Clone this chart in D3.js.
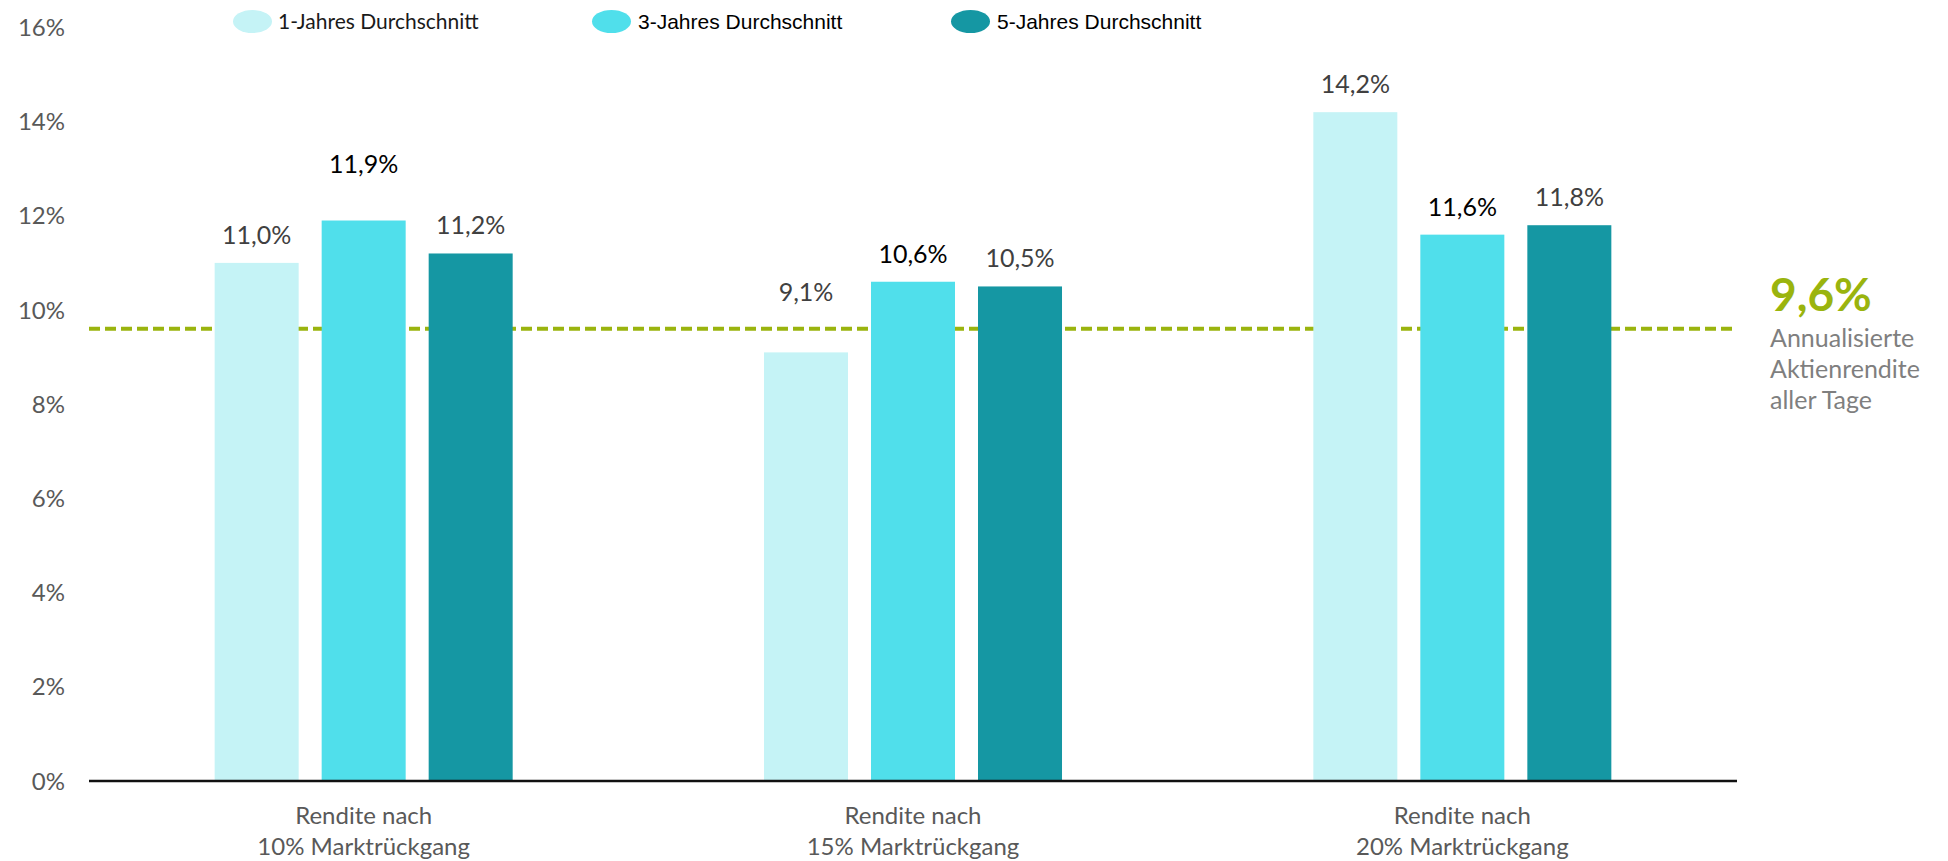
<!DOCTYPE html>
<html>
<head>
<meta charset="utf-8">
<script src="https://cdn.jsdelivr.net/npm/d3@7"></script>
<style>
  html, body { margin: 0; padding: 0; background: #fff; }
  svg { display: block; }
</style>
</head>
<body>
<svg id="chart" width="1948" height="861"></svg>
<script>

// data
var categories = [
    ['Rendite nach', '10% Marktrückgang'],
    ['Rendite nach', '15% Marktrückgang'],
    ['Rendite nach', '20% Marktrückgang']
];
var seriesNames = ['1-Jahres Durchschnitt', '3-Jahres Durchschnitt', '5-Jahres Durchschnitt'];
var oneYear   = [11.0, 9.1, 14.2];
var threeYear = [11.9, 10.6, 11.6];
var fiveYear  = [11.2, 10.5, 11.8];
var yTicks = [0, 2, 4, 6, 8, 10, 12, 14, 16];
var benchmark = 9.6;
var benchmarkText = ['Annualisierte', 'Aktienrendite', 'aller Tage'];

// style
var colors = ['#c5f3f6', '#50dfeb', '#1597a3'];
var labelColors = ['#404040', '#000000', '#404040'];
var labelLift = [[19, 51, 19], [48, 19, 19], [19, 19, 19]]; // per series, per category
var legendX = [233, 592, 951];
var legendFont = ['Lato', 'Liberation Sans, Arial', 'Liberation Sans, Arial'];
var legendColor = ['#1a1a1a', '#000', '#000'];

var chart = {

    left : 89, right : 1737, top : 27.4, bottom : 781,

    draw : function() {

        var svg = d3.select('#chart');
        var values = [oneYear, threeYear, fiveYear];

        var x0 = d3.scaleBand()
            .domain(d3.range(categories.length))
            .range([this.left, this.right])
            .paddingInner(0.4575)
            .paddingOuter(0.22875);

        var x1 = d3.scaleBand()
            .domain(d3.range(seriesNames.length))
            .range([0, x0.bandwidth()])
            .paddingInner(0.215);

        var y = d3.scaleLinear().domain([0, 16]).range([this.bottom, this.top]);

        // y axis labels
        var yAxis = svg.append('g')
            .attr('transform', 'translate(65,0)')
            .call(d3.axisLeft(y).tickValues(yTicks).tickSize(0).tickPadding(0)
                .tickFormat(function(d) { return d + '%'; }));
        yAxis.select('.domain').remove();
        yAxis.selectAll('text')
            .attr('font-family', 'Lato')
            .attr('font-size', 24)
            .attr('fill', '#595959')
            .attr('dy', '0.34em');

        // benchmark line, behind the bars
        svg.append('line')
            .attr('x1', this.left).attr('x2', this.right)
            .attr('y1', y(benchmark)).attr('y2', y(benchmark))
            .attr('stroke', '#9ab40e')
            .attr('stroke-width', 4)
            .attr('stroke-dasharray', '11,5');

        // bars
        var groups = svg.append('g').selectAll('g')
            .data(categories)
            .join('g')
            .attr('transform', function(d, i) { return 'translate(' + x0(i) + ',0)'; });

        groups.each(function(c, ci) {
            var g = d3.select(this);
            seriesNames.forEach(function(s, si) {
                var v = values[si][ci];
                g.append('rect')
                    .attr('x', x1(si))
                    .attr('y', y(v))
                    .attr('width', x1.bandwidth())
                    .attr('height', y(0) - y(v))
                    .attr('fill', colors[si]);
                g.append('text')
                    .attr('x', x1(si) + x1.bandwidth() / 2)
                    .attr('y', y(v) - labelLift[si][ci])
                    .attr('text-anchor', 'middle')
                    .attr('font-family', 'Lato')
                    .attr('font-size', 25)
                    .attr('fill', labelColors[si])
                    .text(d3.format('.1f')(v).replace('.', ',') + '%');
            });
            // category label
            var t = g.append('text')
                .attr('x', x0.bandwidth() / 2)
                .attr('text-anchor', 'middle')
                .attr('font-family', 'Lato')
                .attr('font-size', 24)
                .attr('fill', '#595959');
            c.forEach(function(line, li) {
                t.append('tspan').attr('x', x0.bandwidth() / 2).attr('y', 824 + li * 31).text(line);
            });
        });

        // x axis line
        svg.append('line')
            .attr('x1', this.left).attr('x2', this.right)
            .attr('y1', y(0)).attr('y2', y(0))
            .attr('stroke', '#111')
            .attr('stroke-width', 2.7);

        // legend
        var legend = svg.append('g').selectAll('g')
            .data(seriesNames)
            .join('g')
            .attr('transform', function(d, i) { return 'translate(' + legendX[i] + ',0)'; });
        legend.append('ellipse')
            .attr('cx', 19.5).attr('cy', 21.5)
            .attr('rx', 19.5).attr('ry', 11.5)
            .attr('fill', function(d, i) { return colors[i]; });
        legend.append('text')
            .attr('x', function(d, i) { return i == 0 ? 45 : 46; })
            .attr('y', 29)
            .attr('font-family', function(d, i) { return legendFont[i]; })
            .attr('font-size', 21)
            .attr('fill', function(d, i) { return legendColor[i]; })
            .text(function(d) { return d; });

        // benchmark annotation
        svg.append('text')
            .attr('x', 1770).attr('y', 311)
            .attr('font-family', 'Lato')
            .attr('font-weight', 'bold')
            .attr('font-size', 46)
            .attr('fill', '#9ab40e')
            .text(d3.format('.1f')(benchmark).replace('.', ',') + '%');

        var note = svg.append('text')
            .attr('font-family', 'Lato')
            .attr('font-size', 25)
            .attr('fill', '#7f7f7f');
        benchmarkText.forEach(function(line, i) {
            note.append('tspan').attr('x', 1770).attr('y', 347 + i * 31).text(line);
        });

    }
};

chart.draw();

</script>
</body>
</html>
